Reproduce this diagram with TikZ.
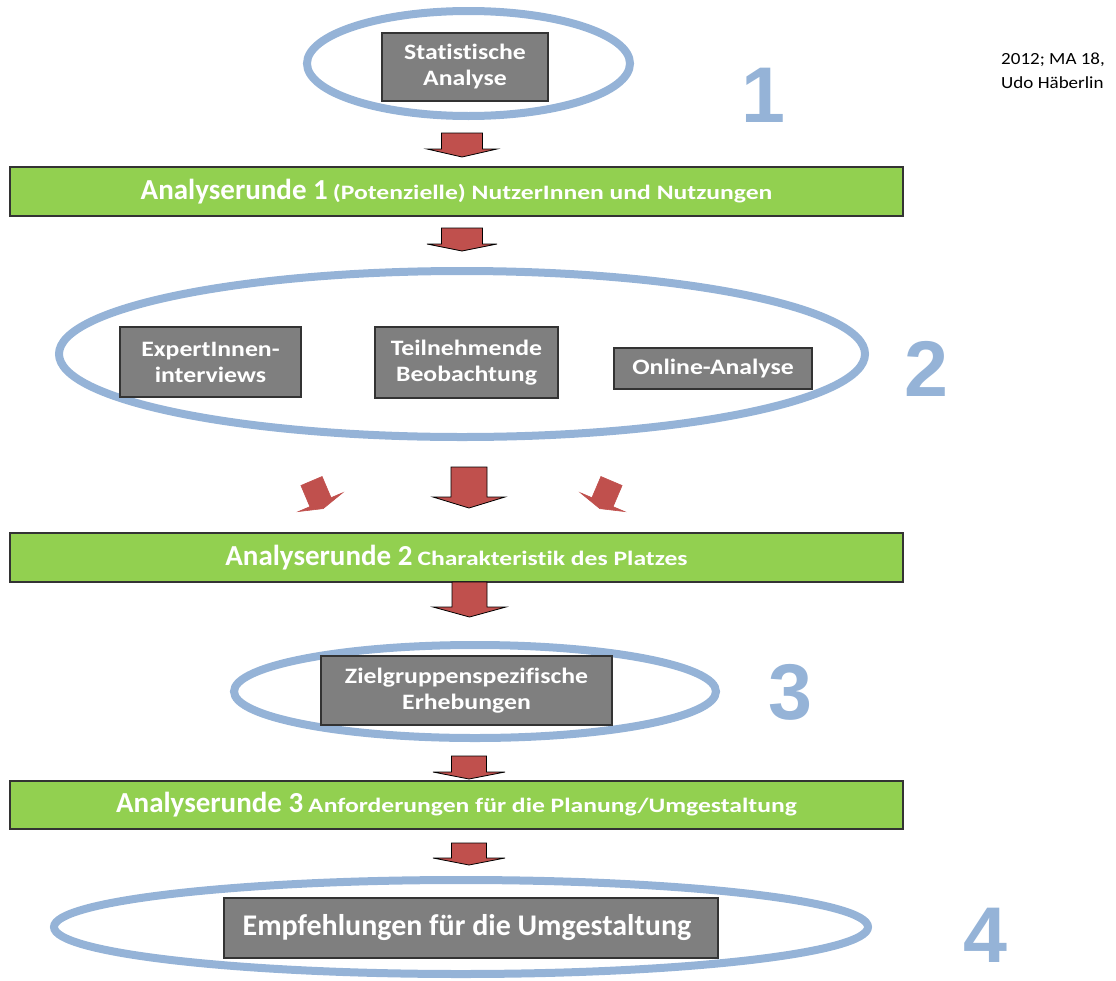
\documentclass[tikz,border=0pt]{standalone}
\usepackage{fontspec}
\setmainfont{Carlito}[Ligatures=CommonOff]
\newfontfamily\numfont{Liberation Sans}
\newfontfamily\boxfont{Carlito}[FakeStretch=1.17, Ligatures=CommonOff]
\newfontfamily\smallbarfont{Carlito}[FakeStretch=1.25, Ligatures=CommonOff]
\newfontfamily\citefont{Carlito}[FakeStretch=1.12, Ligatures=CommonOff]
\definecolor{ellblue}{HTML}{95B3D7}
\definecolor{bargreen}{HTML}{92D050}
\definecolor{boxgray}{HTML}{7F7F7F}
\definecolor{arrred}{HTML}{C0504D}
\tikzset{
  ring/.style={draw=ellblue, line width=8pt},
  graybox/.style={draw=black!80, line width=1.2pt, fill=boxgray, text=white, font=\boxfont\bfseries\fontsize{22}{26}\selectfont, align=center, inner sep=0pt},
  greenbar/.style={draw=black!80, line width=1.2pt, fill=bargreen, text=white, inner sep=0pt},
  bignum/.style={text=ellblue, font=\numfont\bfseries\fontsize{79}{79}\selectfont, inner sep=0pt},
  arrowfill/.style={fill=arrred, draw=black, line width=0.8pt, line join=miter},
  diagfill/.style={fill=arrred, draw=arrred, line width=0.6pt, line join=miter},
  pics/blockarr/.style n args={4}{code={
    \filldraw[arrowfill] (-#1,0) -- (#1,0) -- (#1,#3) -- (#2,#3) -- (0,#4) -- (-#2,#3) -- (-#1,#3) -- cycle;
  }},
  pics/diagarr/.style n args={4}{code={
    \filldraw[diagfill] (-#1,0) -- (#1,0) -- (#1,#3) -- (#2,#3) -- (0,#4) -- (-#2,#3) -- (-#1,#3) -- cycle;
  }},
}
\newcommand\bigpart[1]{{\fontsize{29}{32}\selectfont\bfseries #1}}
\newcommand\smallpart[1]{{\smallbarfont\fontsize{20.5}{24}\selectfont\bfseries #1}}
\begin{document}
\begin{tikzpicture}[x=1pt,y=-1pt]
\useasboundingbox (0,0) rectangle (1116,980);
% stage 1
\draw[ring] (468.5,63.5) ellipse[x radius=161.5, y radius=52.5];
\node[graybox, minimum width=166pt, minimum height=68pt] (stat) at (465,67) {Statistische\\Analyse};
\node[bignum] (n1) at (763,95) {1};
\node[anchor=west, align=left, inner sep=0pt, font=\citefont\fontsize{17}{24}\selectfont] (cite) at (1001,71) {2012; MA 18,\\Udo Häberlin};
\pic at (462,133) {blockarr={20.5}{35}{16}{24}};
% bar 1
\node[greenbar, minimum width=893pt, minimum height=49pt] (bar1) at (456.5,191.5) {\bigpart{Analyserunde 1}\hspace{5pt}\smallpart{(Potenzielle) NutzerInnen und Nutzungen}};
\pic at (462,228) {blockarr={20.5}{35}{16}{23}};
% stage 2
\draw[ring] (462,354) ellipse[x radius=403, y radius=83];
\node[graybox, minimum width=181pt, minimum height=70pt] (expert) at (210.5,362) {ExpertInnen-\\interviews};
\node[graybox, minimum width=183pt, minimum height=71pt] (teil) at (466.5,362.5) {Teilnehmende\\Beobachtung};
\node[graybox, minimum width=198pt, minimum height=41pt] (online) at (713,368.5) {Online-Analyse};
\node[bignum] (n2) at (926,369) {2};
\pic at (469,467) {blockarr={18}{36}{30}{41}};
\pic[rotate=23] at (311.5,481) {diagarr={11.5}{24}{23}{30}};
\pic[rotate=-23] at (611.5,481) {diagarr={11.5}{24}{23}{30}};
% bar 2
\node[greenbar, minimum width=893pt, minimum height=49pt] (bar2) at (456.5,557.5) {\bigpart{Analyserunde 2}\hspace{5pt}\smallpart{Charakteristik des Platzes}};
\pic at (469.5,582) {blockarr={17.5}{36.5}{25}{35}};
% stage 3
\draw[ring] (475,691.5) ellipse[x radius=241, y radius=46.5];
\node[graybox, minimum width=291pt, minimum height=69pt] (ziel) at (466.5,690.5) {Zielgruppenspezifische\\Erhebungen};
\node[bignum] (n3) at (790,692) {3};
\pic at (469,756) {blockarr={17.5}{36}{16}{23}};
% bar 3
\node[greenbar, minimum width=893pt, minimum height=48pt] (bar3) at (456.5,805) {\bigpart{Analyserunde 3}\hspace{5pt}\smallpart{Anforderungen für die Planung/Umgestaltung}};
\pic at (469,843) {blockarr={17.5}{36}{15}{22}};
% stage 4
\draw[ring] (461,927) ellipse[x radius=407, y radius=47];
\node[graybox, minimum width=494pt, minimum height=60pt, font=\bfseries\fontsize{30}{34}\selectfont] (empf) at (471,928) {\hspace{-8pt}Empfehlungen für die Umgestaltung};
\node[bignum] (n4) at (985,935) {4};
\end{tikzpicture}
\end{document}
